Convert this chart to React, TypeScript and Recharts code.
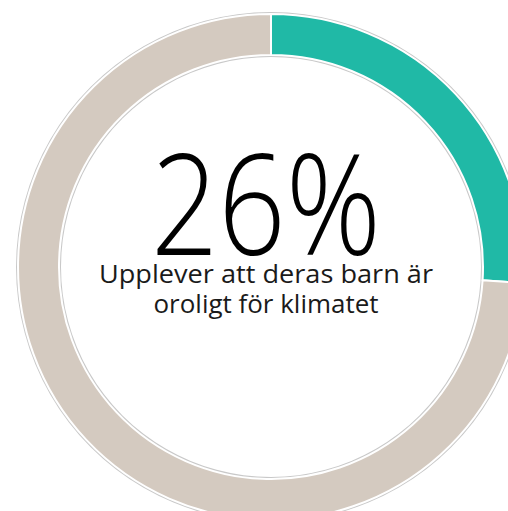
import * as React from 'react';
import { PieChart, Pie, Cell, Label } from 'recharts';

// share of parents who say their child worries about the climate
const segmentNames = ['Ja', 'Övriga'];
const segmentValues = [26, 74];
const segmentColors = ['#20b9a6', '#d4cac0'];

const bigLabel = '26%';
const captionLines = ['Upplever att deras barn är', 'oroligt för klimatet'];

const data = segmentNames.map((name, i) => ({ name, value: segmentValues[i] }));
const outline = [{ name: 'outline', value: 1 }];

const CX = 266;
const CY = 262;

function CenterText(props: any) {
  const vb = props.viewBox || {};
  const cx = vb.cx ?? CX;
  const cy = vb.cy ?? CY;
  return (
    <g>
      <text
        x={cx}
        y={cy - 7}
        textAnchor="middle"
        fontFamily="'Open Sans', 'DejaVu Sans', sans-serif"
        fontWeight={300}
        fontSize={140}
        fill="#000"
        textLength={230}
        lengthAdjust="spacingAndGlyphs"
      >
        {bigLabel}
      </text>
      <text
        x={cx}
        y={cy + 21}
        textAnchor="middle"
        fontFamily="'Open Sans', 'DejaVu Sans', sans-serif"
        fontSize={25}
        fill="#1a1a1a"
        textLength={334}
        lengthAdjust="spacingAndGlyphs"
      >
        {captionLines[0]}
      </text>
      <text
        x={cx}
        y={cy + 51}
        textAnchor="middle"
        fontFamily="'Open Sans', 'DejaVu Sans', sans-serif"
        fontSize={25}
        fill="#1a1a1a"
        textLength={225}
        lengthAdjust="spacingAndGlyphs"
      >
        {captionLines[1]}
      </text>
    </g>
  );
}

export default function App() {
  return (
    <div style={{ position: 'absolute', left: 0, top: 0, width: 508, height: 511, background: '#fff' }}>
      <PieChart width={508} height={511}>
        <Pie
          data={outline}
          dataKey="value"
          cx={CX}
          cy={CY}
          innerRadius={210}
          outerRadius={255}
          startAngle={90}
          endAngle={-270}
          fill="#c9c9c9"
          stroke="none"
          isAnimationActive={false}
        />
        <Pie
          data={data}
          dataKey="value"
          nameKey="name"
          cx={CX}
          cy={CY}
          innerRadius={212}
          outerRadius={253}
          startAngle={90}
          endAngle={-270}
          stroke="#fff"
          strokeWidth={2}
          isAnimationActive={false}
        >
          {data.map((d, i) => (
            <Cell key={d.name} fill={segmentColors[i]} />
          ))}
          <Label position="center" content={<CenterText />} />
        </Pie>
      </PieChart>
    </div>
  );
}
